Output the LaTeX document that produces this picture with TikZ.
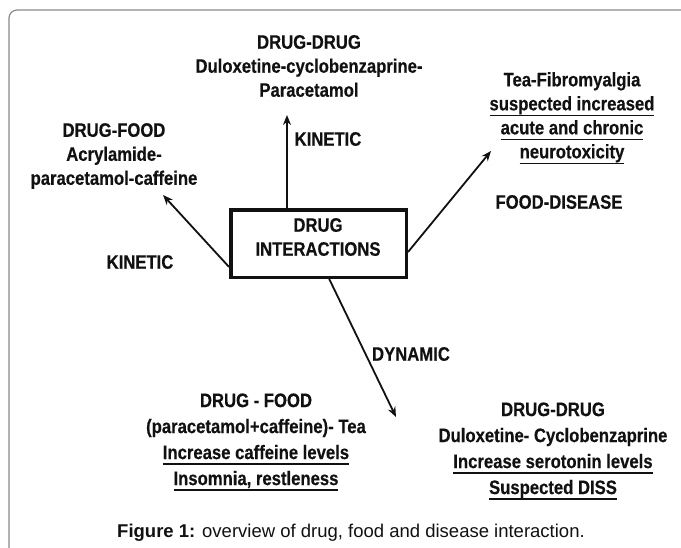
\documentclass[tikz,border=0pt]{standalone}
\usepackage{fontspec}
\setmainfont{Liberation Sans}
\newfontfamily\narrowfont{Liberation Sans}[FakeStretch=0.855, BoldFeatures={FakeBold=0.35}]
\usetikzlibrary{arrows.meta,calc}
\newcommand{\ulin}[1]{\setbox0\hbox{#1}\rlap{\rule[-5.5pt]{\wd0}{1.3pt}}\box0}
\definecolor{framegray}{HTML}{8A8A8A}
\definecolor{ink}{HTML}{111111}
\tikzset{
  txt/.style={text=ink, align=center, inner sep=0pt,
    font=\narrowfont\bfseries\fontsize{19.5}{24}\selectfont},
  txtb/.style={txt, font=\narrowfont\bfseries\fontsize{19.5}{26}\selectfont},
  lbl/.style={text=ink, inner sep=0pt, font=\narrowfont\bfseries\fontsize{19.5}{24}\selectfont},
  conn/.style={draw=ink, line width=1.8pt, -{Stealth[length=10pt,width=8pt]}},
  mainbox/.style={draw=ink, line width=3.5pt, minimum width=175.5pt, minimum height=67.5pt, inner sep=0pt}
}
\begin{document}
\begin{tikzpicture}[x=1pt,y=-1pt]
\useasboundingbox (0,0) rectangle (681,547);
\fill[white] (0,0) rectangle (681,547);
\draw[framegray, line width=1.2pt, rounded corners=8pt] (9,570) rectangle (689,10);

\node[mainbox] (box) at (318.5,243.5) {};
\node[txt] (boxtext) at (318,237) {DRUG\\INTERACTIONS};

\node[txt] (dd) at (309,66) {DRUG-DRUG\\Duloxetine-cyclobenzaprine-\\Paracetamol};
\node[txt] (df) at (114,156) {DRUG-FOOD\\Acrylamide-\\paracetamol-caffeine};
\node[txt] (fd) at (572,118) {Tea-Fibromyalgia\\\ulin{suspected increased}\\\ulin{acute and chronic}\\\ulin{neurotoxicity}};
\node[txtb] (dfb) at (256,442) {DRUG - FOOD\\(paracetamol+caffeine)- Tea\\\ulin{Increase caffeine levels}\\\ulin{Insomnia, restleness}};
\node[txtb] (ddb) at (553,451) {DRUG-DRUG\\Duloxetine- Cyclobenzaprine\\\ulin{Increase serotonin levels}\\\ulin{Suspected DISS}};

\node[lbl] (k1) at (328,139) {KINETIC};
\node[lbl] (k2) at (140,262) {KINETIC};
\node[lbl] (fdl) at (559,202) {FOOD-DISEASE};
\node[lbl] (dyn) at (411,354) {DYNAMIC};

\coordinate (tipU) at (287,115);
\coordinate (tipL) at (163,195);
\coordinate (tipR) at (491,151);
\coordinate (tipD) at (396,417);

\draw[conn] ($(box.north west)!0.324!(box.north east)$) -- (tipU);
\draw[conn] ($(box.north west)!0.83!(box.south west)$) -- (tipL);
\draw[conn] ($(box.north east)!0.62!(box.south east)$) -- (tipR);
\draw[conn] ($(box.south west)!0.56!(box.south east)$) -- (tipD);

\node[text=ink, inner sep=0pt, font=\fontsize{18.5}{22}\selectfont] (cap) at (351,533) {\textbf{Figure 1:} overview of drug, food and disease interaction.};
\end{tikzpicture}
\end{document}
